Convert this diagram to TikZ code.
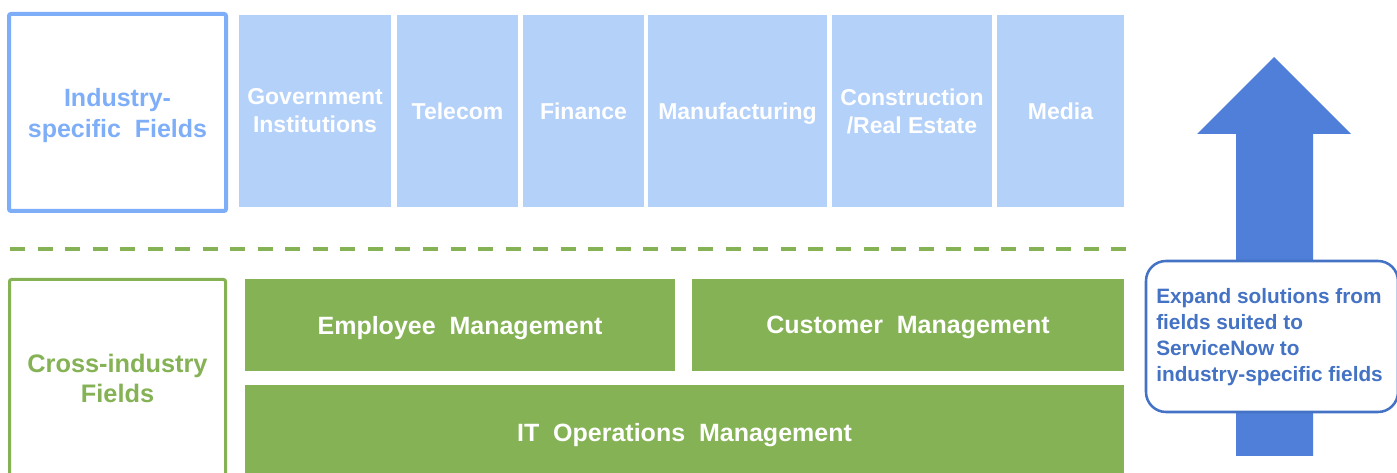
\documentclass[tikz,border=0pt]{standalone}
\usepackage{fontspec}
\setmainfont{Liberation Sans}
\definecolor{lightblue}{RGB}{180,209,250}
\definecolor{indblue}{RGB}{127,174,248}
\definecolor{fieldgreen}{RGB}{132,178,84}
\definecolor{arrowblue}{RGB}{79,127,217}
\definecolor{noteblue}{RGB}{68,114,196}
\newcommand{\nodepth}[1]{\raisebox{0pt}[\height][0pt]{#1}}
\tikzset{
  indbox/.style={draw=indblue, line width=3pt, rounded corners=1.5pt, fill=white, text=indblue,
    font=\bfseries\fontsize{18.75}{23.25}\selectfont, align=center, inner sep=0pt},
  crossbox/.style={draw=fieldgreen, line width=2.25pt, rounded corners=1.5pt, fill=white, text=fieldgreen,
    font=\bfseries\fontsize{19}{22.5}\selectfont, align=center, inner sep=0pt},
  sectorbox/.style={fill=lightblue, text=white, minimum height=144pt,
    font=\bfseries\fontsize{17.25}{21}\selectfont, align=center, inner sep=0pt},
  greenbox/.style={fill=fieldgreen, text=white,
    font=\bfseries\fontsize{18.75}{22}\selectfont, align=center, inner sep=0pt},
  notebox/.style={draw=noteblue, line width=1.9pt, rounded corners=15pt, fill=white, inner sep=0pt},
  notetext/.style={text=noteblue, font=\bfseries\fontsize{15.6}{19.5}\selectfont, align=left, inner sep=0pt},
  divider/.style={draw=fieldgreen, line width=3pt, dash pattern=on 11.25pt off 9.4pt},
  bigarrow/.style={fill=arrowblue}
}
\begin{document}
\begin{tikzpicture}[x=0.75pt,y=-0.75pt]
\useasboundingbox (0,0) rectangle (1397,473);
\clip (0,0) rectangle (1397,473);
% industry-specific row
\node[indbox, minimum width=162.75pt, minimum height=147.75pt, text depth=-1.5pt] (ind) at (117.5,112.5) {Industry-\\specific~ Fields};
\node[sectorbox, minimum width=114pt] (gov) at (315,111) {Government\\Institutions};
\node[sectorbox, minimum width=90.75pt] (tel) at (457.5,111) {Telecom};
\node[sectorbox, minimum width=90.75pt] (fin) at (583.5,111) {Finance};
\node[sectorbox, minimum width=134.25pt] (man) at (737.5,111) {\nodepth{Manufacturing}};
\node[sectorbox, minimum width=120pt] (con) at (912,111) {Construction\\/Real Estate};
\node[sectorbox, minimum width=95.25pt] (med) at (1060.5,111) {Media};
% divider
\coordinate (dl) at (10,249);
\coordinate (dr) at (1132,249);
\draw[divider] (dl) -- (dr);
% cross-industry row
\node[crossbox, minimum width=162pt, minimum height=147.75pt] (cross) at (117.5,378) {Cross-industry\\Fields};
\node[greenbox, minimum width=322.5pt, minimum height=69pt] (emp) at (460,325) {\nodepth{Employee~ Management}};
\node[greenbox, minimum width=324pt, minimum height=69pt] (cus) at (908,325) {\nodepth{Customer~ Management}};
\node[greenbox, minimum width=659.25pt, minimum height=71.25pt] (itops) at (684.5,432.5) {\nodepth{IT~ Operations~ Management}};
% big arrow
\fill[bigarrow] (1274,57) -- (1351,134) -- (1313,134) -- (1313,456) -- (1236,456) -- (1236,134) -- (1197,134) -- cycle;
% note
\node[notebox, minimum width=189pt, minimum height=113.25pt] (note) at (1272,336.5) {};
\node[notetext, anchor=west] (notetxt) at (1156,337) {Expand solutions from\\fields suited to\\ServiceNow to\\industry-specific fields};
\end{tikzpicture}
\end{document}
